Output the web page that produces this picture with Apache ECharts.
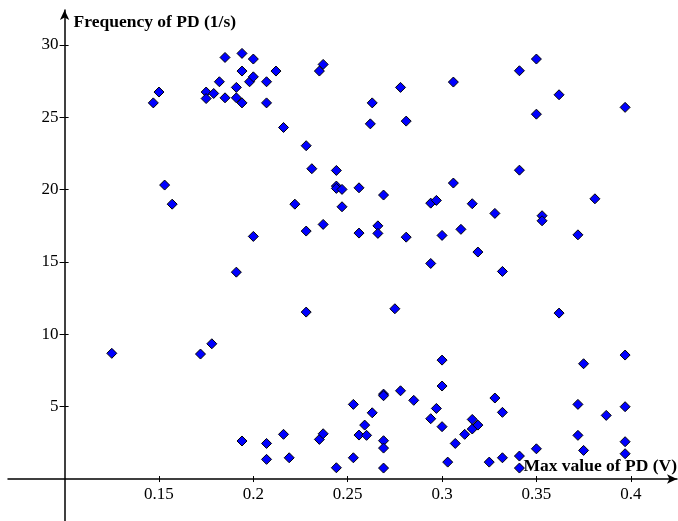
<!DOCTYPE html>
<html>
<head>
<meta charset="utf-8">
<script src="https://cdn.jsdelivr.net/npm/echarts@6/dist/echarts.min.js"></script>
<style>
  html, body { margin: 0; padding: 0; background: #fff; }
  #chart { width: 678px; height: 521px; }
</style>
</head>
<body>
<div id="chart"></div>
<script>
// max value of PD (V)
const maxValue = [
  0.194, 0.207, 0.216, 0.207, 0.219, 0.235, 0.237, 0.244,
  0.253, 0.253, 0.256, 0.259, 0.260, 0.263, 0.269, 0.269, 0.269, 0.269, 0.269,
  0.278, 0.285, 0.294, 0.297, 0.300, 0.300, 0.303, 0.307, 0.312, 0.316, 0.316,
  0.319, 0.325, 0.328, 0.332, 0.332, 0.341, 0.341, 0.350, 0.372, 0.372, 0.375,
  0.387, 0.397, 0.397, 0.397,
  0.147, 0.150, 0.175, 0.175, 0.179, 0.182, 0.185, 0.185, 0.191, 0.191, 0.194,
  0.194, 0.194, 0.198, 0.200, 0.200, 0.207, 0.207, 0.212, 0.216, 0.235, 0.237,
  0.263, 0.262, 0.278, 0.281, 0.306, 0.341, 0.350, 0.350, 0.362, 0.397,
  0.228, 0.231, 0.244, 0.244, 0.244, 0.247, 0.256, 0.153, 0.157, 0.222, 0.247,
  0.237, 0.228, 0.256, 0.200,
  0.269, 0.266, 0.266, 0.281, 0.294, 0.297, 0.300, 0.306, 0.310, 0.316, 0.319,
  0.328, 0.341, 0.353, 0.353, 0.372, 0.381,
  0.191, 0.228, 0.125, 0.172, 0.178,
  0.294, 0.332, 0.275, 0.362, 0.300, 0.375, 0.397
];
// frequency of PD (1/s)
const frequency = [
  2.63, 2.46, 3.09, 1.36, 1.47, 2.74, 3.13, 0.78,
  5.16, 1.47, 3.04, 3.73, 3.02, 4.58, 5.87, 5.76, 2.65, 2.14, 0.76,
  6.10, 5.44, 4.17, 4.88, 6.43, 3.62, 1.17, 2.46, 3.09, 4.12, 3.46,
  3.73, 1.17, 5.60, 4.61, 1.47, 1.59, 0.76, 2.09, 5.16, 3.02, 1.98,
  4.40, 5.00, 2.58, 1.75,
  26.0, 26.75, 26.75, 26.3, 26.65, 27.46, 29.14, 26.35, 27.07, 26.35, 29.42,
  28.2, 26.0, 27.46, 29.03, 27.8, 27.46, 26.0, 28.2, 24.3, 28.2, 28.66,
  26.0, 24.55, 27.07, 24.74, 27.44, 28.22, 29.03, 25.22, 26.56, 25.69,
  23.04, 21.45, 21.33, 20.25, 20.09, 20.02, 20.13, 20.32, 19.0, 19.0, 18.82,
  17.6, 17.14, 17.0, 16.77,
  19.63, 17.5, 16.98, 16.72, 19.07, 19.26, 16.84, 20.46, 17.26, 19.03, 15.69,
  18.36, 21.35, 18.2, 17.85, 16.88, 19.37,
  14.3, 11.54, 8.69, 8.64, 9.35,
  14.9, 14.35, 11.77, 11.47, 8.22, 7.97, 8.57
];
const xTicks = [0.15, 0.2, 0.25, 0.3, 0.35, 0.4];
const yTicks = [5, 10, 15, 20, 25, 30];

const points = maxValue.map((v, i) => [v, frequency[i]]);

const font = "'Liberation Serif', 'Times New Roman', serif";
const line = { color: '#000', width: 1.5 };

// axes cross at (0.1, 0): shift them into the grid with negative offsets
const xShift = -41.96;
const yShift = -56.6;

const option = {
  animation: false,
  grid: { left: 8, top: 10, width: 669, height: 511, outerBoundsMode: 'none', containLabel: false },
  xAxis: [
    {
      type: 'value',
      min: 0.07,
      max: 0.4245,
      position: 'bottom',
      offset: xShift,
      splitLine: { show: false },
      axisLine: { onZero: false, lineStyle: line, symbol: ['none', 'arrow'], symbolSize: [7, 10] },
      axisTick: { customValues: xTicks, length: 3, lineStyle: { color: '#000' } },
      axisLabel: {
        customValues: xTicks,
        formatter: v => String(v),
        color: '#000', fontFamily: font, fontSize: 17, margin: 7
      },
      name: 'Max value of PD (V)',
      nameLocation: 'end',
      nameGap: 0,
      nameTextStyle: {
        fontFamily: font, fontSize: 17.5, fontWeight: 'bold', color: '#000',
        align: 'right', verticalAlign: 'bottom', padding: [0, 0, 4, 0]
      }
    },
    {
      type: 'value',
      min: 0.07,
      max: 0.4245,
      position: 'bottom',
      offset: xShift,
      splitLine: { show: false },
      axisLine: { show: false, onZero: false },
      axisTick: { customValues: xTicks, inside: true, length: 3, lineStyle: { color: '#000' } },
      axisLabel: { show: false }
    }
  ],
  yAxis: [
    {
      type: 'value',
      min: -2.9,
      max: 32.42,
      position: 'left',
      offset: yShift,
      splitLine: { show: false },
      axisLine: { show: true, onZero: false, lineStyle: line, symbol: ['none', 'arrow'], symbolSize: [7, 10] },
      axisTick: { show: true, customValues: yTicks, length: 5, lineStyle: { color: '#000' } },
      axisLabel: {
        customValues: yTicks,
        color: '#000', fontFamily: font, fontSize: 17, margin: 6
      },
      name: 'Frequency of PD (1/s)',
      nameLocation: 'end',
      nameGap: -12,
      nameTextStyle: {
        fontFamily: font, fontSize: 17.5, fontWeight: 'bold', color: '#000',
        align: 'left', verticalAlign: 'middle', padding: [0, 0, 0, 9]
      }
    },
    {
      type: 'value',
      min: -2.9,
      max: 32.42,
      position: 'left',
      offset: yShift,
      splitLine: { show: false },
      axisLine: { show: false, onZero: false },
      axisTick: { show: true, customValues: yTicks, inside: true, length: 4, lineStyle: { color: '#000' } },
      axisLabel: { show: false }
    }
  ],
  series: [
    {
      type: 'scatter',
      data: points,
      symbol: 'diamond',
      symbolSize: 10,
      itemStyle: { color: '#0000ff', borderColor: '#000', borderWidth: 1, opacity: 1 }
    }
  ]
};

const chart = echarts.init(document.getElementById('chart'));
chart.setOption(option);
</script>
</body>
</html>
